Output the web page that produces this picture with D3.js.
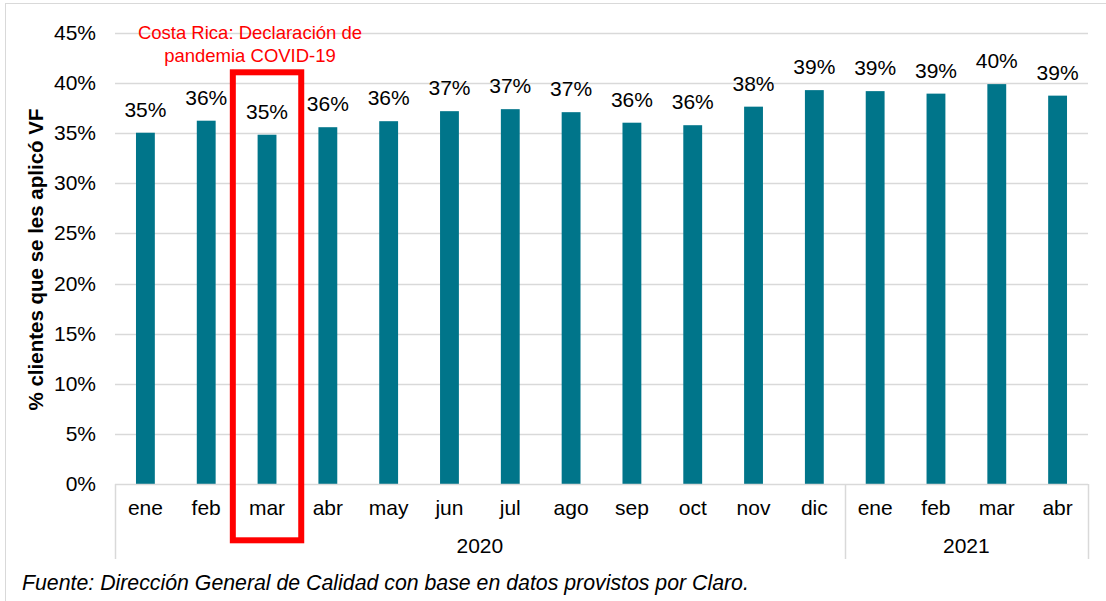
<!DOCTYPE html>
<html>
<head>
<meta charset="utf-8">
<script src="https://cdn.jsdelivr.net/npm/d3@7"></script>
<style>
  body { margin: 0; background: #fff; }
  text { font-family: Arial, "Liberation Sans", sans-serif; }
</style>
</head>
<body>
<script>
// data
var months = ["ene","feb","mar","abr","may","jun","jul","ago","sep","oct","nov","dic","ene","feb","mar","abr"];
var years = ["2020","2020","2020","2020","2020","2020","2020","2020","2020","2020","2020","2020","2021","2021","2021","2021"];
var values = [35.05, 36.25, 34.85, 35.6, 36.2, 37.2, 37.4, 37.1, 36.05, 35.8, 37.65, 39.3, 39.2, 38.95, 39.9, 38.75];
var yTicks = [0, 5, 10, 15, 20, 25, 30, 35, 40, 45];
var highlightIndex = 2;

var W = 1106, H = 601;
var plotLeft = 115, plotRight = 1088, plotTop = 33, plotBottom = 484;
var barColor = "#00758a";
var labelSize = "21px";

var svg = d3.select("body").append("svg")
    .attr("width", W)
    .attr("height", H);

// outer chart border (clipped on right/bottom like the original)
svg.append("rect")
    .attr("x", 5.5).attr("y", 3.5)
    .attr("width", W + 20).attr("height", H + 20)
    .attr("fill", "none")
    .attr("stroke", "#d9d9d9")
    .attr("stroke-width", 1);

var idx = d3.range(months.length);

var x = d3.scaleBand()
    .domain(idx)
    .range([plotLeft, plotRight])
    .paddingInner(0.69)
    .paddingOuter(0.345);

var band = (plotRight - plotLeft) / months.length;

var y = d3.scaleLinear()
    .domain([0, 45])
    .range([plotBottom, plotTop]);

// gridlines
svg.append("g")
    .selectAll("line")
    .data(yTicks.slice(1))
    .join("line")
    .attr("x1", plotLeft).attr("x2", plotRight)
    .attr("y1", d => Math.round(y(d)) + 0.5)
    .attr("y2", d => Math.round(y(d)) + 0.5)
    .attr("stroke", "#d9d9d9")
    .attr("stroke-width", 1.5);

// y tick labels
svg.append("g")
    .selectAll("text")
    .data(yTicks)
    .join("text")
    .attr("x", 96)
    .attr("y", d => y(d) + 7)
    .attr("text-anchor", "end")
    .style("font-size", labelSize)
    .style("fill", "#000")
    .text(d => d + "%");

// bars
svg.append("g")
    .selectAll("rect")
    .data(values)
    .join("rect")
    .attr("x", (d, i) => x(i))
    .attr("width", x.bandwidth())
    .attr("y", d => y(d))
    .attr("height", d => plotBottom - y(d))
    .attr("fill", barColor);

// data labels
svg.append("g")
    .selectAll("text")
    .data(values)
    .join("text")
    .attr("x", (d, i) => x(i) + x.bandwidth() / 2)
    .attr("y", d => y(d) - 16)
    .attr("text-anchor", "middle")
    .style("font-size", labelSize)
    .style("fill", "#000")
    .text(d => Math.round(d) + "%");

// x axis line and group separators
var axisColor = "#d9d9d9";
svg.append("line")
    .attr("x1", plotLeft).attr("x2", plotRight)
    .attr("y1", plotBottom + 0.5).attr("y2", plotBottom + 0.5)
    .attr("stroke", axisColor).attr("stroke-width", 1.5);

var yearGroups = d3.groups(idx, i => years[i]);
var seps = [plotLeft];
yearGroups.forEach(g => seps.push(plotLeft + band * (g[1][g[1].length - 1] + 1)));

svg.append("g")
    .selectAll("line")
    .data(seps)
    .join("line")
    .attr("x1", d => Math.round(d) + 0.5).attr("x2", d => Math.round(d) + 0.5)
    .attr("y1", plotBottom).attr("y2", 559)
    .attr("stroke", axisColor).attr("stroke-width", 1.5);

// month labels
svg.append("g")
    .selectAll("text")
    .data(months)
    .join("text")
    .attr("x", (d, i) => x(i) + x.bandwidth() / 2)
    .attr("y", 515)
    .attr("text-anchor", "middle")
    .style("font-size", labelSize)
    .text(d => d);

// year labels
svg.append("g")
    .selectAll("text")
    .data(yearGroups)
    .join("text")
    .attr("x", g => plotLeft + band * (g[1][0] + g[1][g[1].length - 1] + 1) / 2)
    .attr("y", 553)
    .attr("text-anchor", "middle")
    .style("font-size", labelSize)
    .text(g => g[0]);

// y axis title
svg.append("text")
    .attr("transform", "translate(43," + ((plotTop + plotBottom) / 2 + 1) + ") rotate(-90)")
    .attr("text-anchor", "middle")
    .style("font-size", "20.5px")
    .style("font-weight", "bold")
    .text("% clientes que se les aplicó VF");

// highlight box around March 2020
var hx = plotLeft + band * highlightIndex;
svg.append("rect")
    .attr("x", hx - 3.8)
    .attr("y", 72.3)
    .attr("width", band + 7.6)
    .attr("height", 468)
    .attr("fill", "none")
    .attr("stroke", "#ff0000")
    .attr("stroke-width", 6);

// annotation
var note = svg.append("text")
    .attr("text-anchor", "middle")
    .style("font-size", "18.5px")
    .style("fill", "#ff0000");
note.append("tspan").attr("x", 250).attr("y", 39).text("Costa Rica: Declaración de");
note.append("tspan").attr("x", 250).attr("y", 62).text("pandemia COVID-19");

// source
svg.append("text")
    .attr("x", 22)
    .attr("y", 590)
    .style("font-size", "21.3px")
    .style("font-style", "italic")
    .text("Fuente: Dirección General de Calidad con base en datos provistos por Claro.");
</script>
</body>
</html>
